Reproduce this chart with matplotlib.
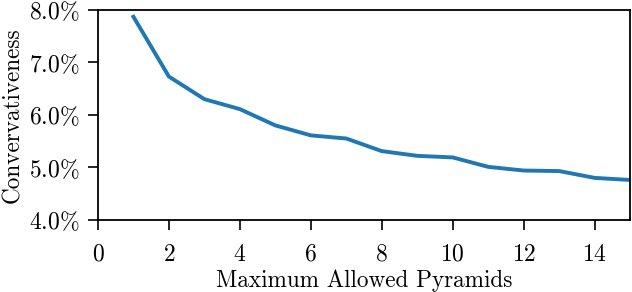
import matplotlib
matplotlib.use("Agg")
import matplotlib.pyplot as plt

plt.rcParams['font.family'] = 'serif'
plt.rcParams['font.serif'] = ['cmr10']
plt.rcParams['mathtext.fontset'] = 'cm'
plt.rcParams['axes.formatter.use_mathtext'] = True
plt.rcParams['font.size'] = 16.7

pyramids = [1, 2, 3, 4, 5, 6, 7, 8, 9, 10, 11, 12, 13, 14, 15]
conservativeness = [7.87, 6.73, 6.30, 6.11, 5.80, 5.61, 5.55, 5.31, 5.22, 5.19,
                    5.01, 4.94, 4.93, 4.80, 4.76]

yticks = [4.0, 5.0, 6.0, 7.0, 8.0]
ytick_labels = [r'$%.1f\%%$' % v for v in yticks]
xticks = [0, 2, 4, 6, 8, 10, 12, 14]

fig = plt.figure(figsize=(6.32, 2.92), dpi=100)
ax = fig.add_axes([0.155, 0.247, 0.842, 0.719])
ax.plot(pyramids, conservativeness, color='#1f77b4', linewidth=2.8)
ax.set_xlim(0, 15)
ax.set_ylim(4.0, 8.0)
ax.set_xticks(xticks)
ax.set_xticklabels([r'$%d$' % v for v in xticks])
ax.set_yticks(yticks)
ax.set_yticklabels(ytick_labels)
ax.tick_params(direction='out', length=7, width=1.2, colors='black', labelsize=17)
ax.tick_params(axis='x', pad=10)
ax.tick_params(axis='y', pad=6)
for s in ax.spines.values():
    s.set_linewidth(1.3)
ax.set_xlabel('Maximum Allowed Pyramids', labelpad=3)
ax.set_ylabel('Convervativeness', labelpad=4)

fig.savefig('out.png', dpi=100)
